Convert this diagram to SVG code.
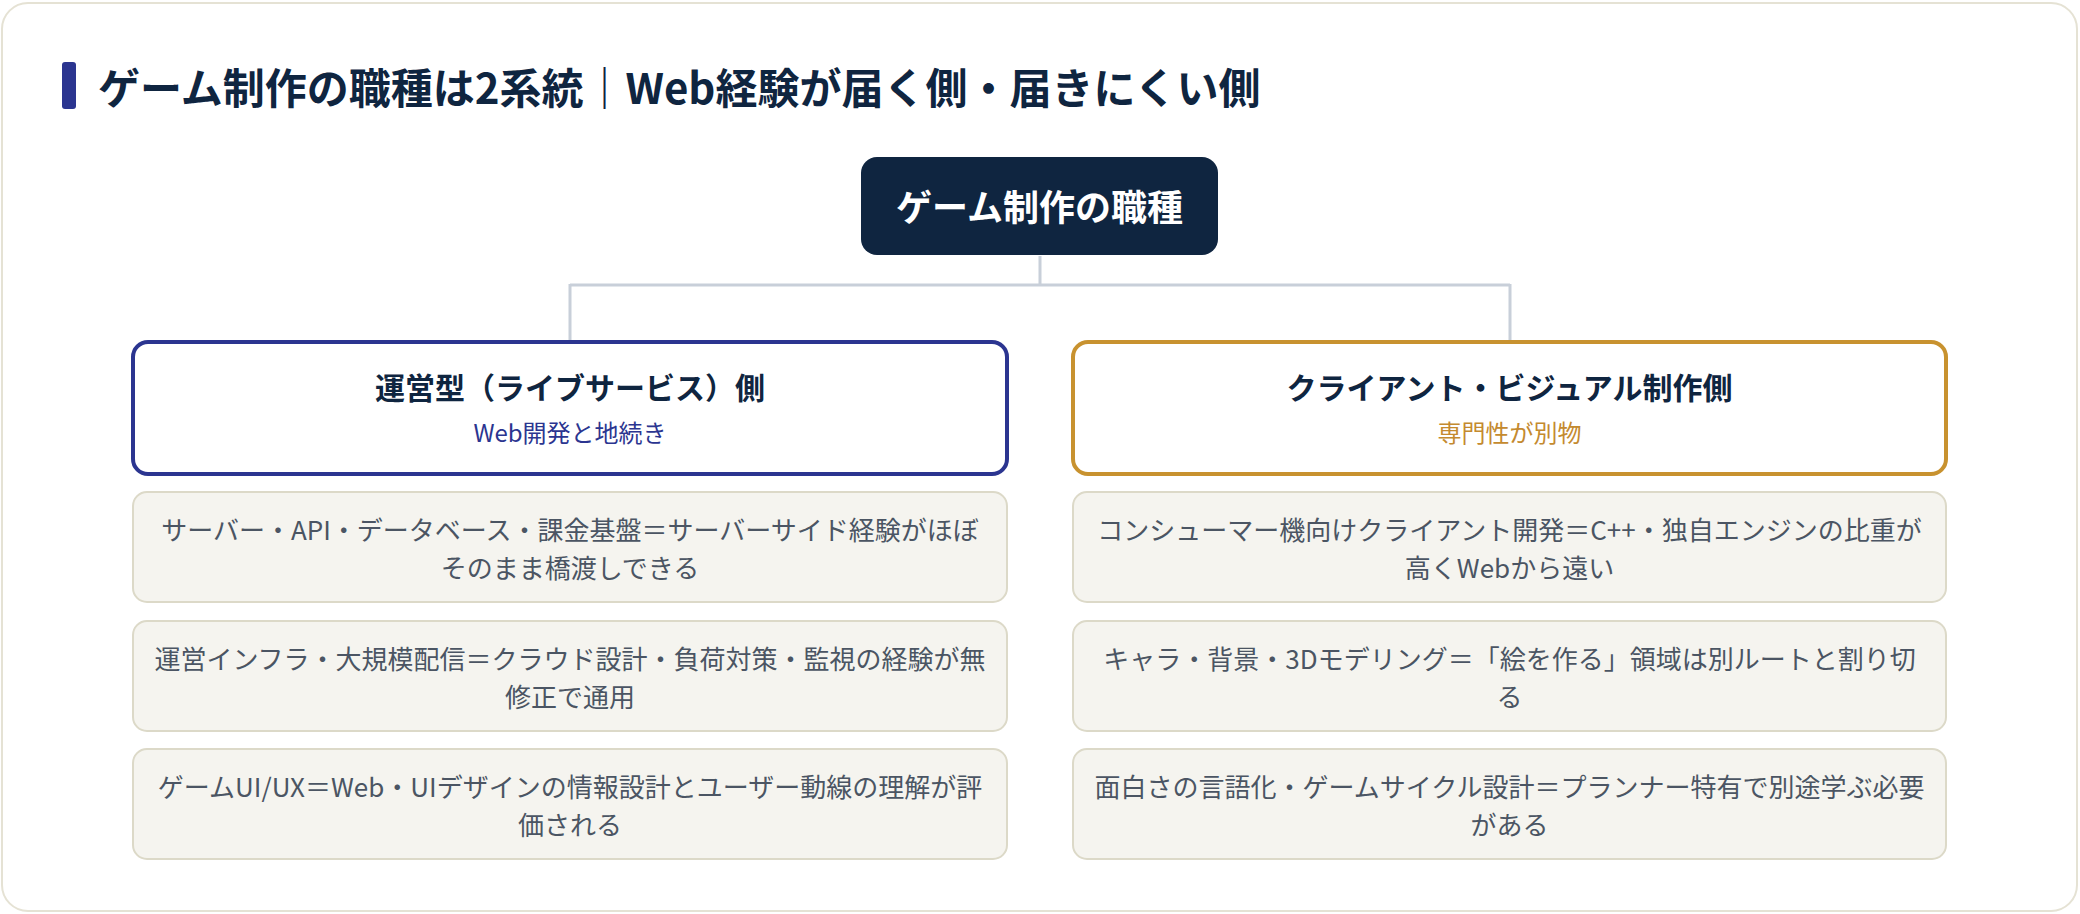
<svg xmlns="http://www.w3.org/2000/svg" width="2080" height="914" viewBox="0 0 2080 914">
<style>
text{font-family:"Noto Sans CJK JP","Noto Sans",sans-serif;text-anchor:middle}
.title{font-size:42px;font-weight:700;fill:#0f2540;text-anchor:start}
.root-t{font-size:36px;font-weight:700;fill:#ffffff}
.h-t{font-size:30px;font-weight:700;fill:#0f2540}
.sub{font-size:24px;font-weight:400}
.item{fill:#f5f4ef;stroke:#dcd9c8;stroke-width:2}
.it{font-size:26px;fill:#4b5563}
.conn{fill:none;stroke:#c8cfd9;stroke-width:3}
</style>
<rect x="0" y="0" width="2080" height="914" fill="#ffffff"/>
<rect x="2" y="3" width="2075" height="908" rx="26" fill="#ffffff" stroke="#e5e2d4" stroke-width="2"/>
<g id="title">
<rect x="62" y="62" width="14" height="47" rx="3" fill="#2b3590"/>
<text class="title" x="98" y="104">ゲーム制作の職種は2系統｜Web経験が届く側・届きにくい側</text>
</g>
<g id="connectors">
<path class="conn" d="M1040 256 V285 M570 285 H1510 M570 284 V341 M1510 284 V341"/>
</g>
<g id="root">
<rect x="861" y="157" width="357" height="98" rx="16" fill="#0f2540"/>
<text class="root-t" x="1039.5" y="221">ゲーム制作の職種</text>
</g>
<g id="left-header">
<rect x="133" y="342" width="874" height="132" rx="15" fill="#ffffff" stroke="#2b3590" stroke-width="4"/>
<text class="h-t" x="570" y="399">運営型（ライブサービス）側</text>
<text class="sub" x="570" y="442" fill="#2b3590">Web開発と地続き</text>
</g>
<g id="right-header">
<rect x="1073" y="342" width="873" height="132" rx="15" fill="#ffffff" stroke="#c8922f" stroke-width="4"/>
<text class="h-t" x="1509.5" y="399">クライアント・ビジュアル制作側</text>
<text class="sub" x="1509.5" y="442" fill="#c48a2f">専門性が別物</text>
</g>
<g id="left-item-1">
<rect class="item" x="133" y="492" width="874" height="110" rx="14"/>
<text class="it" x="570" y="540">サーバー・API・データベース・課金基盤＝サーバーサイド経験がほぼ</text>
<text class="it" x="570" y="578">そのまま橋渡しできる</text>
</g>
<g id="left-item-2">
<rect class="item" x="133" y="621" width="874" height="110" rx="14"/>
<text class="it" x="570" y="669">運営インフラ・大規模配信＝クラウド設計・負荷対策・監視の経験が無</text>
<text class="it" x="570" y="707">修正で通用</text>
</g>
<g id="left-item-3">
<rect class="item" x="133" y="749" width="874" height="110" rx="14"/>
<text class="it" x="570" y="797">ゲームUI/UX＝Web・UIデザインの情報設計とユーザー動線の理解が評</text>
<text class="it" x="570" y="835">価される</text>
</g>
<g id="right-item-1">
<rect class="item" x="1073" y="492" width="873" height="110" rx="14"/>
<text class="it" x="1509.5" y="540">コンシューマー機向けクライアント開発＝C++・独自エンジンの比重が</text>
<text class="it" x="1509.5" y="578">高くWebから遠い</text>
</g>
<g id="right-item-2">
<rect class="item" x="1073" y="621" width="873" height="110" rx="14"/>
<text class="it" x="1509.5" y="669">キャラ・背景・3Dモデリング＝「絵を作る」領域は別ルートと割り切</text>
<text class="it" x="1509.5" y="707">る</text>
</g>
<g id="right-item-3">
<rect class="item" x="1073" y="749" width="873" height="110" rx="14"/>
<text class="it" x="1509.5" y="797">面白さの言語化・ゲームサイクル設計＝プランナー特有で別途学ぶ必要</text>
<text class="it" x="1509.5" y="835">がある</text>
</g>
</svg>
